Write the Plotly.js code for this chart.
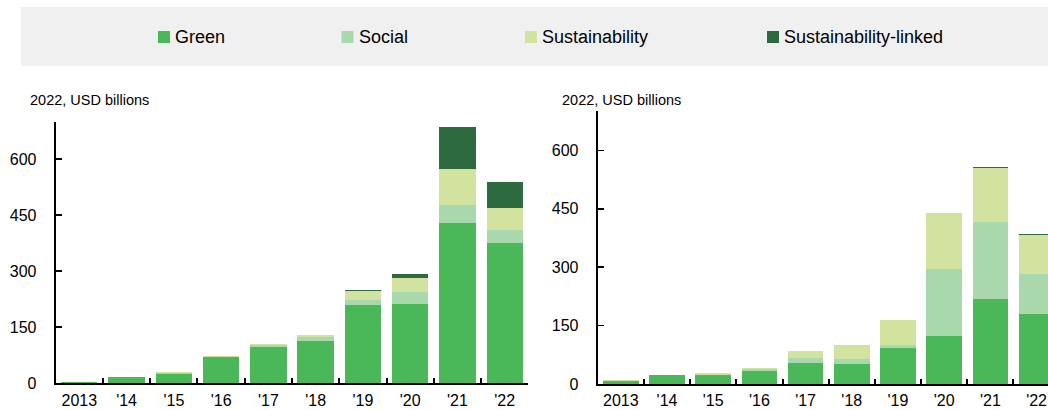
<!DOCTYPE html>
<html>
<head>
<meta charset="utf-8">
<script src="https://cdn.plot.ly/plotly-3.0.1.min.js"></script>
<style>html,body{margin:0;padding:0;background:#fff;}#chart{width:1048px;height:410px;}</style>
</head>
<body>
<div id="chart"></div>
<script>
// ---- data ----
var years = ["2013", "'14", "'15", "'16", "'17", "'18", "'19", "'20", "'21", "'22"];
var seriesNames = ["Green", "Social", "Sustainability", "Sustainability-linked"];
var seriesColors = ["#4AB858", "#A9D8AD", "#D2E3A0", "#2D6A40"];
var axisTitle = "2022, USD billions";
var yTicks = [0, 150, 300, 450, 600];

// left panel
var leftGreen  = [4, 16, 26, 71, 98, 114, 210, 211, 429, 376];
var leftSocial = [0, 0, 1, 0, 4, 10, 13, 34, 49, 35];
var leftSust   = [0, 0, 2, 1, 3, 4, 23, 37, 96, 58];
var leftLinked = [0, 0, 0, 0, 0, 0, 4, 10, 111, 70];

// right panel
var rightGreen  = [9, 24, 23, 34, 55, 52, 93, 123, 218, 179];
var rightSocial = [0, 0, 1, 4, 11, 11, 8, 173, 198, 104];
var rightSust   = [1, 0, 3, 4, 19, 38, 64, 144, 138, 100];
var rightLinked = [0, 0, 0, 0, 0, 0, 0, 0, 2, 3];

var W = 1048, H = 410;
function px(x){ return x / W; }
function py(y){ return 1 - y / H; }

var FONT = "'Liberation Sans', Arial, sans-serif";

var leftSets = [leftGreen, leftSocial, leftSust, leftLinked];
var rightSets = [rightGreen, rightSocial, rightSust, rightLinked];
var traces = [];
leftSets.forEach(function(vals, i){
  traces.push({type:'bar', x: years, y: vals, name: seriesNames[i], xaxis:'x', yaxis:'y',
    marker:{color: seriesColors[i], line:{width:0}}, showlegend:false, hoverinfo:'y+name'});
});
rightSets.forEach(function(vals, i){
  traces.push({type:'bar', x: years, y: vals, name: seriesNames[i], xaxis:'x2', yaxis:'y2',
    marker:{color: seriesColors[i], line:{width:0}}, showlegend:false, hoverinfo:'y+name'});
});

function xAxis(domain, range, anchor){
  return {domain: domain, anchor: anchor, type:'category', range: range,
    showline:true, linecolor:'#000', linewidth:2, ticks:'inside', tickson:'boundaries',
    ticklen:5, tickwidth:2, tickcolor:'#000', showgrid:false, zeroline:false, tickangle:0,
    ticklabelstandoff: 1,
    tickfont:{family: FONT, size:16, color:'#000'}, fixedrange:true};
}
function yAxis(domain, anchor){
  return {domain: domain, anchor: anchor, range:[0,700], tickvals: yTicks,
    showline:true, linecolor:'#000', linewidth:2, ticks:'inside', ticklen:6, tickwidth:1.5,
    tickcolor:'#000', showgrid:false, zeroline:false, ticklabelstandoff: 14,
    tickfont:{family: FONT, size:16, color:'#000'}, fixedrange:true};
}

// legend (drawn as shapes + text in a grey band)
var shapes = [{type:'rect', xref:'paper', yref:'paper', x0:px(21), x1:1, y0:py(66), y1:py(7),
  fillcolor:'#F0F0F0', line:{width:0}, layer:'below'}];
var annotations = [];
var legendX = [158, 341.5, 525, 767];
seriesNames.forEach(function(n, i){
  shapes.push({type:'rect', xref:'paper', yref:'paper', x0:px(legendX[i]), x1:px(legendX[i]+12),
    y0:py(43), y1:py(31), fillcolor: seriesColors[i], line:{width:0}});
  annotations.push({xref:'paper', yref:'paper', x:px(legendX[i]+15), y:py(37), xanchor:'left', yanchor:'middle',
    text:n, showarrow:false, font:{family:FONT, size:18, color:'#000'}});
});
annotations.push({xref:'paper', yref:'paper', x:px(28), y:py(100), xanchor:'left', yanchor:'middle',
  text:axisTitle, showarrow:false, font:{family:FONT, size:14.5, color:'#000'}});
annotations.push({xref:'paper', yref:'paper', x:px(560), y:py(100), xanchor:'left', yanchor:'middle',
  text:axisTitle, showarrow:false, font:{family:FONT, size:14.5, color:'#000'}});

var layout = {
  width: W, height: H, margin:{l:0, r:0, t:0, b:0, pad:0},
  paper_bgcolor:'#fff', plot_bgcolor:'rgba(0,0,0,0)',
  barmode:'stack', bargap:0.232, showlegend:false,
  xaxis: xAxis([px(55.7), px(528.3)], [-0.5, 9.5], 'y'),
  yaxis: yAxis([py(383.3), py(121.7)], 'x'),
  xaxis2: xAxis([px(597.7), 1], [-0.5, 9.247], 'y2'),
  yaxis2: yAxis([py(384), py(111.4)], 'x2'),
  shapes: shapes, annotations: annotations
};

Plotly.newPlot('chart', traces, layout, {displayModeBar:false, staticPlot:true});
</script>
</body>
</html>
